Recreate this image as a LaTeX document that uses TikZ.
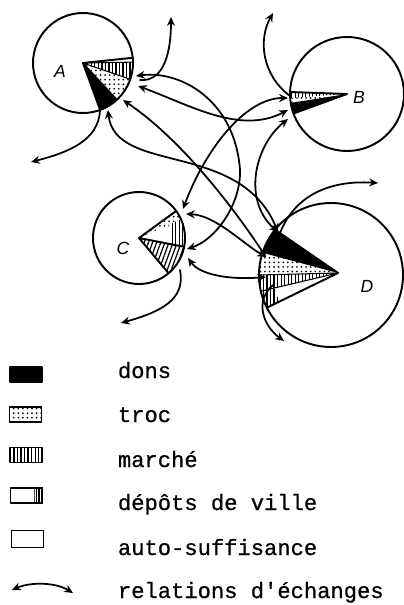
\documentclass[tikz,border=0pt]{standalone}
\usepackage{fontspec}
\setmonofont{Liberation Mono}[UprightFeatures={FakeBold=0.7}]
\setsansfont{Liberation Sans}
\usetikzlibrary{positioning, arrows.meta, calc, patterns.meta}

\begin{document}
\begin{tikzpicture}[x=0.02cm, y=0.02cm,
    line width=1.1pt, line cap=round, line join=round,
    rel/.style={{Stealth[length=5pt,width=4.5pt]}-{Stealth[length=5pt,width=4.5pt]}, line width=1pt},
    flow/.style={-{Stealth[length=5pt,width=4.5pt]}, line width=1pt},
    dotfill/.style={pattern={Dots[distance=2.6pt,radius=0.55pt]}},
    barfill/.style={pattern={Lines[angle=90,distance=2pt,line width=0.7pt]}},
    slantfill/.style={pattern={Lines[angle=70,distance=2.2pt,line width=0.7pt]}},
    swatch/.style={draw, line width=1pt, minimum width=0.64cm, minimum height=0.3cm, inner sep=0pt},
    key/.style={anchor=base west, inner sep=0pt, font=\ttfamily\fontsize{12.6}{14}\selectfont},
    town/.style={font=\sffamily\itshape\fontsize{10}{12}\selectfont}
]

\useasboundingbox (0,0) rectangle (404,-605);

% centres of the four circles
\coordinate (cA) at (83,-63);
\coordinate (cB) at (347,-94);
\coordinate (cC) at (139,-238);
\coordinate (cD) at (331,-275);
\coordinate (pD) at (338,-273);

% A
\fill[black] (cA) -- ++(-70:50) arc[start angle=-70, end angle=-47, radius=50] -- cycle;
\path[dotfill] (cA) -- ++(-47:50) arc[start angle=-47, end angle=-19, radius=50] -- cycle;
\path[barfill] (cA) -- ++(-19:50) arc[start angle=-19, end angle=1, radius=50] -- cycle;
\draw (cA) circle[radius=50];
\draw (cA) -- ++(6:50) (cA) -- ++(-70:50);
\draw[line width=0.6pt] (cA) -- ++(-19:50) (cA) -- ++(-47:50) (cA) -- ++(1:50);
\node[town] (A) at (60,-71) {A};

% B
\path[barfill] (cB) -- ++(178:57) arc[start angle=178, end angle=184, radius=57] -- cycle;
\path[dotfill] (cB) -- ++(184:57) arc[start angle=184, end angle=189, radius=57] -- cycle;
\fill[black] (cB) -- ++(189:57) arc[start angle=189, end angle=200, radius=57] -- cycle;
\draw (cB) circle[radius=57];
\draw (cB) -- ++(178:57) (cB) -- ++(200:57);
\node[town] (B) at (359,-97) {B};

% C
\path[dotfill] (cC) -- ++(24:46) arc[start angle=24, end angle=36, radius=46] -- cycle;
\path[barfill] ($(cC)+(-11:32)$) arc[start angle=-11, end angle=24, radius=32]
    -- ++(24:14) arc[start angle=24, end angle=-11, radius=46] -- cycle;
\path[slantfill] (cC) -- ++(-50:46) arc[start angle=-50, end angle=-11, radius=46] -- cycle;
\draw (cC) circle[radius=46];
\draw (cC) -- ++(36:46) (cC) -- ++(-11:46) (cC) -- ++(-50:46);
\node[town] (C) at (123,-248) {C};

% D
\fill[black] (pD) -- ($(cD)+(141:72)$) arc[start angle=141, end angle=162, radius=72] -- cycle;
\path[dotfill] (pD) -- ($(cD)+(162:72)$) arc[start angle=162, end angle=180, radius=72] -- cycle;
\path[barfill] (pD) -- ($(cD)+(180:72)$) arc[start angle=180, end angle=193, radius=72] -- cycle;
\path[barfill] ($(cD)+(193:58)$) arc[start angle=193, end angle=207, radius=58]
    -- ($(cD)+(207:72)$) arc[start angle=207, end angle=193, radius=72] -- cycle;
\draw (cD) circle[radius=72];
\draw (pD) -- ($(cD)+(141:72)$) (pD) -- ($(cD)+(207:72)$);
\draw[line width=0.6pt] (pD) -- ($(cD)+(180:72)$) (pD) -- ($(cD)+(193:72)$);
\node[town] (D) at (367,-286) {D};

% ends of the exchange lines
\coordinate (a1) at (136,-76);
\coordinate (a2) at (138,-86);
\coordinate (a3) at (123,-100);
\coordinate (a4) at (108,-110);
\coordinate (b1) at (288,-98);
\coordinate (b2) at (288,-110);
\coordinate (b3) at (288,-119);
\coordinate (c1) at (183,-209);
\coordinate (c2) at (186,-214);
\coordinate (c3) at (187,-249);
\coordinate (c4) at (188,-258);
\coordinate (d1) at (278,-232);
\coordinate (d2) at (266,-257);
\coordinate (d3) at (266,-277);

\draw[rel] (a2) .. controls (190,-105) and (240,-135) .. (b2);
\draw[rel] (a1) .. controls (180,-70) and (235,-100) .. (240,-170)
    .. controls (241,-205) and (215,-240) .. (c3);
\draw[rel] (a3) .. controls (175,-135) and (225,-195) .. (d2);
\draw[rel] (a4) .. controls (115,-175) and (240,-140) .. (d1);
\draw[rel] (b1) .. controls (245,-98) and (205,-150) .. (c1);
\draw[rel] (b3) .. controls (255,-145) and (242,-200) .. (d1);
\draw[rel] (c2) .. controls (215,-215) and (245,-245) .. (d2);
\draw[rel] (c4) .. controls (200,-275) and (230,-280) .. (d3);

% exchanges going outside
\coordinate (aUp) at (171,-17);
\coordinate (aLeft) at (31,-162);
\coordinate (bUp) at (273,-13);
\coordinate (cDown) at (121,-323);
\coordinate (dRight) at (378,-183);
\coordinate (dDown) at (284,-341);

\draw[flow] (140,-80) .. controls (165,-82) and (171,-50) .. (aUp);
\draw[flow] (100,-111) .. controls (98,-140) and (70,-152) .. (aLeft);
\draw[flow] (290,-96) .. controls (262,-75) and (258,-40) .. (bUp);
\draw[flow] (180,-270) .. controls (186,-300) and (160,-312) .. (cDown);
\draw[flow] (280,-233) .. controls (295,-195) and (330,-180) .. (dRight);
\draw[flow] (273,-285) .. controls (255,-300) and (262,-325) .. (dDown);

% legend
\node[swatch, fill=black] (kDons) at (26,-374.5) {};
\node[swatch, dotfill] (kTroc) at (25.5,-414.5) {};
\node[swatch, barfill] (kMarche) at (26,-455) {};
\node[swatch] (kDepot) at (26.5,-495.5) {};
\fill[pattern={Lines[angle=90,distance=1.6pt,line width=1pt]}] ($(kDepot.north east)+(-9,0)$) rectangle (kDepot.south east);
\node[swatch, minimum height=0.34cm] (kAuto) at (27.5,-539) {};
\coordinate (kL) at (12,-590);
\coordinate (kR) at (73,-593);
\draw[rel] (kL) .. controls (30,-582) and (55,-582) .. (kR);

\node[key] (tDons) at (117,-378) {dons};
\node[key] (tTroc) at (117,-422) {troc};
\node[key] (tMarche) at (117,-467) {marché};
\node[key] (tDepot) at (117,-510) {dépôts de ville};
\node[key] (tAuto) at (117,-555) {auto-suffisance};
\node[key] (tRel) at (117,-598) {relations d'échanges};

\end{tikzpicture}
\end{document}
